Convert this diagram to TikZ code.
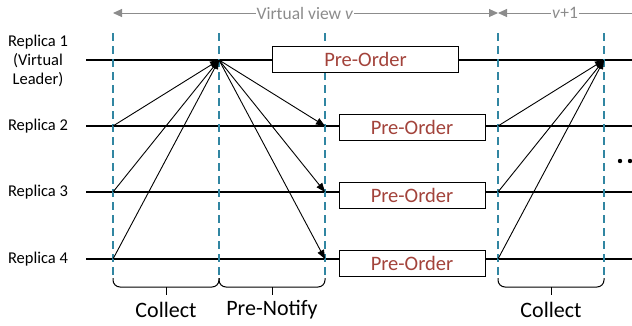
\documentclass[tikz,border=0pt]{standalone}
\usepackage{fontspec}
\setmainfont{Carlito}
\usetikzlibrary{arrows.meta}
\definecolor{dashcol}{HTML}{3186A2}
\definecolor{preord}{HTML}{A3433B}
\definecolor{topgray}{HTML}{8C8C8C}
\tikzset{
  repl/.style={font=\fontsize{16.5}{19}\selectfont, anchor=center, inner sep=0pt},
  tl/.style={line width=1.3pt, black},
  phase/.style={dashcol, line width=1.25pt, dash pattern=on 8pt off 5pt},
  pobox/.style={draw, line width=1pt, fill=white, inner sep=0pt, text=preord, font=\fontsize{20.5}{22}\selectfont},
  msg/.style={line width=0.9pt, -{Triangle[length=9pt,width=7pt]}},
  brace/.style={line width=1pt, rounded corners=7pt},
  bl/.style={font=\fontsize{22}{24}\selectfont},
  tarrow/.style={topgray, line width=1pt},
  tlabel/.style={topgray, font=\fontsize{17.5}{19}\selectfont, fill=white, inner sep=1pt}
}
\begin{document}
\begin{tikzpicture}[x=1pt,y=-1pt]
\useasboundingbox (0,0) rectangle (632,325);
% replica labels
\node[repl, align=center] (r1) at (38,61) {Replica 1\\(Virtual\\Leader)};
\node[repl] (r2) at (38,126) {Replica 2};
\node[repl] (r3) at (38,192) {Replica 3};
\node[repl] (r4) at (38,259) {Replica 4};
% time lines
\foreach \n/\y in {1/60,2/126,3/192,4/259}{
  \coordinate (s\n) at (86,\y);
  \coordinate (e\n) at (632,\y);
  \draw[tl] (s\n) -- (e\n);
}
% phase boundaries
\foreach \n/\x in {a/113,b/219,c/325,d/498,e/604}{
  \coordinate (top\n) at (\x,33);
  \coordinate (bot\n) at (\x,278);
  \draw[phase] (top\n) -- (bot\n);
}
% event points
\foreach \n/\y in {1/60,2/126,3/192,4/259}{
  \coordinate (a\n) at (113,\y);
  \coordinate (b\n) at (219,\y);
  \coordinate (c\n) at (325,\y);
  \coordinate (d\n) at (498,\y);
  \coordinate (e\n) at (604,\y);
}
% Pre-Order boxes
\node[pobox, minimum width=186pt, minimum height=26pt] (p1) at (365.5,59.5) {Pre-Order};
\node[pobox, minimum width=146pt, minimum height=26pt] (p2) at (412,127) {Pre-Order};
\node[pobox, minimum width=146pt, minimum height=26pt] (p3) at (412,195) {Pre-Order};
\node[pobox, minimum width=146pt, minimum height=26pt] (p4) at (412,263) {Pre-Order};
% messages
\foreach \n in {2,3,4}{
  \draw[msg] (a\n) -- (b1);
  \draw[msg] (b1) -- (c\n);
  \draw[msg] (d\n) -- (e1);
}
% braces
\draw[brace] (bota) -- (113,287) -- (219,287) -- (botb);
\draw[brace] (botb) -- (219,287) -- (325,287) -- (botc);
\draw[brace] (botd) -- (498,287) -- (604,287) -- (bote);
\coordinate (k1) at (166,287); \coordinate (k1b) at (166,295);
\coordinate (k2) at (272,287); \coordinate (k2b) at (272,295);
\coordinate (k3) at (551,287); \coordinate (k3b) at (551,295);
\draw[line width=1pt] (k1) -- (k1b);
\draw[line width=1pt] (k2) -- (k2b);
\draw[line width=1pt] (k3) -- (k3b);
\node[bl] (l1) at (166,310) {Collect};
\node[bl] (l2) at (272,310) {Pre-Notify};
\node[bl] (l3) at (551,310) {Collect};
% top view arrows
\coordinate (va) at (113,13);
\coordinate (vb) at (498,13);
\coordinate (vc) at (632,13);
\draw[tarrow, {Triangle[length=9pt,width=8pt]}-{Triangle[length=9pt,width=8pt]}] (va) -- (vb);
\draw[tarrow, {Triangle[length=9pt,width=8pt]}-] (vb) -- (vc);
\node[tlabel] (v1) at (305,13) {Virtual view \textit{v}};
\node[tlabel] (v2) at (565,13) {\textit{v}+1};
% ellipsis
\fill (620,161) circle (2.2pt) (630,161) circle (2.2pt);
\end{tikzpicture}
\end{document}
